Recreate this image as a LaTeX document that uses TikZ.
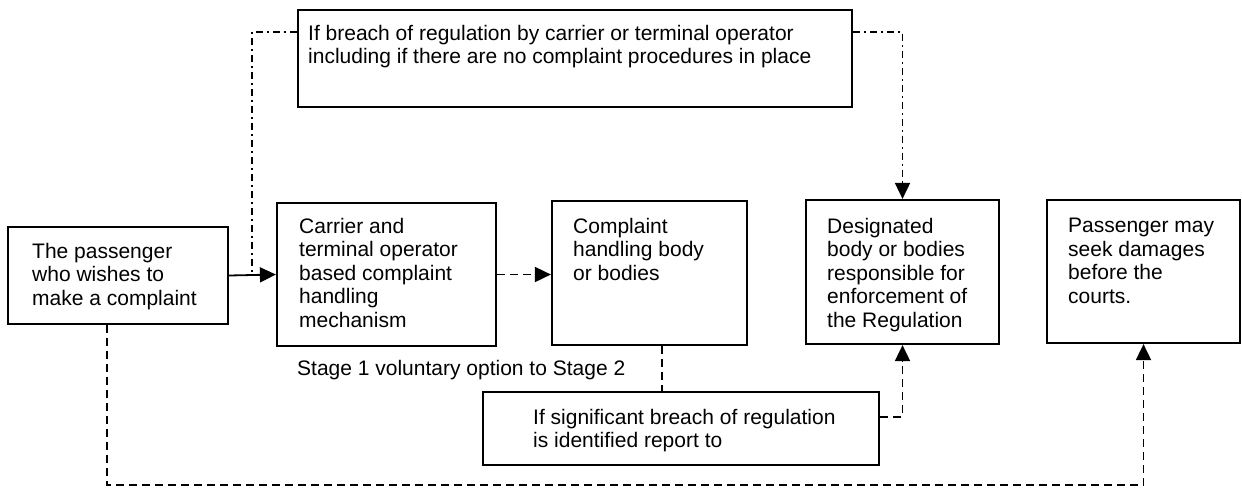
\documentclass[tikz,border=0pt]{standalone}
\usepackage{fontspec}
\setmainfont{Liberation Sans}
\usetikzlibrary{arrows.meta,calc}
\tikzset{
  box/.style={draw=black, line width=2.2pt, inner sep=0pt, rectangle},
  txt/.style={anchor=north west, inner sep=0pt, align=left, font=\fontsize{21}{23.5}\selectfont},
  conn/.style={line width=1.8pt},
  arr/.style={-{Triangle[length=16pt,width=15pt]}},
  dashline/.style={dash pattern=on 8pt off 5pt},
  dashdotline/.style={dash pattern=on 7pt off 4pt on 2pt off 4pt},
}
\begin{document}
\begin{tikzpicture}[x=1pt,y=-1pt]
\useasboundingbox (0,0) rectangle (1242,488);
\fill[white] (0,0) rectangle (1242,488);

% boxes
\node[box, minimum width=554pt, minimum height=97pt] (top) at (575,58.5) {};
\node[box, minimum width=220pt, minimum height=97pt] (pass) at (118,275.5) {};
\node[box, minimum width=219pt, minimum height=143pt] (carr) at (386.5,274.5) {};
\node[box, minimum width=195pt, minimum height=144pt] (comp) at (649.5,273) {};
\node[box, minimum width=193pt, minimum height=144pt] (des) at (902.5,272) {};
\node[box, minimum width=193pt, minimum height=143pt] (court) at (1143.5,271.5) {};
\node[box, minimum width=396pt, minimum height=73pt] (sig) at (681,428.5) {};

% texts
\node[txt] (toptxt) at (308,25) {If breach of regulation by carrier or terminal operator\\including if there are no complaint procedures in place};
\node[txt] (passtxt) at (32,243) {The passenger\\who wishes to\\make a complaint};
\node[txt] (carrtxt) at (299,218) {Carrier and\\terminal operator\\based complaint\\handling\\mechanism};
\node[txt] (comptxt) at (573,218) {Complaint\\handling body\\or bodies};
\node[txt] (destxt) at (827,218) {Designated\\body or bodies\\responsible for\\enforcement of\\the Regulation};
\node[txt] (courttxt) at (1068,218) {Passenger may\\seek damages\\before the\\courts.};
\node[txt] (sigtxt) at (533,409) {If significant breach of regulation\\is identified report to};
\node[txt] (stage) at (297,360) {Stage 1 voluntary option to Stage 2};

% helper coordinates
\coordinate (j1) at ($(pass.east)!0.49!(carr.west)$);
\coordinate (topL) at ($(top.north west)+(0,23)$);
\coordinate (topR) at ($(top.north east)+(0,23)$);
\coordinate (c1) at ($(comp.south)+(12.5,0)$);
\coordinate (sigR) at ($(sig.east)+(0,-11.5)$);
\coordinate (p1) at ($(pass.south)+(-11,0)$);
\coordinate (bot) at ($(p1)+(0,160)$);

% connectors
\draw[conn,arr] (pass.east) -- (carr.west);
\draw[conn,dashdotline] (topL) -| (j1);
\draw[conn,dashdotline,arr] (topR) -| (des.north);
\draw[conn,dashline,arr] (carr.east) -- (carr.east -| comp.west);
\draw[conn,dashline] (c1) -- (c1 |- sig.north);
\draw[conn,dashline,arr] (sigR) -| (des.south);
\draw[conn,dashline,arr] (p1) -- (bot) -| (court.south);
\end{tikzpicture}
\end{document}
